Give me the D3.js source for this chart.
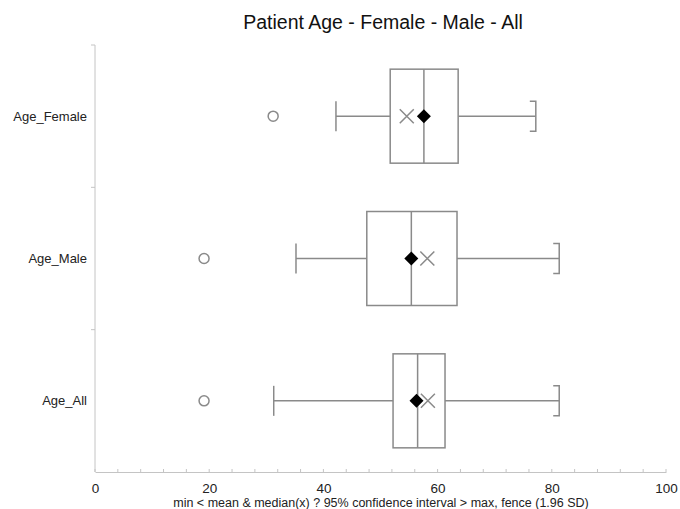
<!DOCTYPE html>
<html><head>
<meta charset="UTF-8">
<script src="https://d3js.org/d3.v7.min.js"></script>
<style>
body { margin:0; background:#fff; }
text { font-family: "Liberation Sans", Arial, sans-serif; }
</style>
</head>
<body>
<svg id="vis" width="680" height="509"></svg>
<script>
// values
var groups   = ["Age_Female", "Age_Male", "Age_All"];
var outliers = [31.2, 19.1, 19.1];
var whiskLo  = [42.2, 35.2, 31.3];
var q1       = [51.7, 47.6, 52.2];
var median   = [57.6, 55.4, 56.5];
var q3       = [63.6, 63.4, 61.3];
var whiskHi  = [77.2, 81.3, 81.3];
var diamond  = [57.6, 55.4, 56.3];
var cross    = [54.6, 58.2, 58.3];
var xTicks   = [0, 20, 40, 60, 80, 100];

var svg = d3.select("#vis");
var mLeft = 95, mRight = 666, mTop = 45, mBottom = 472;

var x = d3.scaleLinear().domain([0, 100]).range([mLeft, mRight]);
var y = d3.scaleBand().domain(groups).range([mTop, mBottom]).padding(0);

var grey = "#8a8a8a";
var axisGrey = "#c4c4c4";

// title
svg.append("text").attr("x", 383).attr("y", 29)
	.attr("text-anchor", "middle").attr("font-size", 19.5).attr("fill", "#111")
	.text("Patient Age - Female - Male - All");

// y axis line + separators
svg.append("line").attr("x1", mLeft).attr("x2", mLeft).attr("y1", mTop).attr("y2", mBottom)
	.attr("stroke", axisGrey);
svg.append("line").attr("x1", mLeft - 4).attr("x2", mLeft).attr("y1", mTop).attr("y2", mTop)
	.attr("stroke", axisGrey);
groups.slice(1).forEach(function(g){
	svg.append("line").attr("x1", mLeft - 4).attr("x2", mLeft).attr("y1", y(g)).attr("y2", y(g))
		.attr("stroke", axisGrey);
});
groups.forEach(function(g){
	svg.append("text").attr("x", 87).attr("y", y(g) + y.bandwidth()/2 + 4.5)
		.attr("text-anchor", "end").attr("font-size", 13).attr("fill", "#222").text(g);
});

// x axis
var xAxis = d3.axisBottom(x).tickValues(xTicks).tickSize(0).tickPadding(11).tickFormat(d3.format("d"));
var gx = svg.append("g").attr("transform", "translate(0," + mBottom + ")").call(xAxis);
gx.select(".domain").attr("stroke", axisGrey);
gx.selectAll("text").attr("font-size", 13.5).attr("fill", "#222")
	.style("font-family", "'Liberation Sans', Arial, sans-serif");
d3.range(0, 101, 4).forEach(function(v){
	svg.append("line").attr("x1", x(v)).attr("x2", x(v)).attr("y1", mBottom).attr("y2", mBottom - 3)
		.attr("stroke", axisGrey);
});
svg.append("text").attr("x", 381).attr("y", 507).attr("text-anchor", "middle")
	.attr("font-size", 12.5).attr("fill", "#222")
	.text("min < mean & median(x) ? 95% confidence interval > max, fence (1.96 SD)");

// boxes
var boxH = 94, capH = 30;
groups.forEach(function(g, i){
	var cy = y(g) + y.bandwidth()/2;
	var gb = svg.append("g").attr("stroke", grey).attr("stroke-width", 1.5).attr("fill", "none");
	gb.append("circle").attr("cx", x(outliers[i])).attr("cy", cy).attr("r", 5);
	gb.append("line").attr("x1", x(whiskLo[i])).attr("x2", x(q1[i])).attr("y1", cy).attr("y2", cy);
	gb.append("line").attr("x1", x(q3[i])).attr("x2", x(whiskHi[i])).attr("y1", cy).attr("y2", cy);
	gb.append("line").attr("x1", x(whiskLo[i])).attr("x2", x(whiskLo[i]))
		.attr("y1", cy - capH/2).attr("y2", cy + capH/2);
	gb.append("path").attr("d",
		"M" + (x(whiskHi[i]) - 6) + "," + (cy - capH/2) +
		"H" + x(whiskHi[i]) + "V" + (cy + capH/2) + "H" + (x(whiskHi[i]) - 6));
	gb.append("rect").attr("x", x(q1[i])).attr("y", cy - boxH/2)
		.attr("width", x(q3[i]) - x(q1[i])).attr("height", boxH);
	gb.append("line").attr("x1", x(median[i])).attr("x2", x(median[i]))
		.attr("y1", cy - boxH/2).attr("y2", cy + boxH/2);
	var cx = x(cross[i]);
	gb.append("path").attr("d",
		"M" + (cx - 7) + "," + (cy - 7) + "L" + (cx + 7) + "," + (cy + 7) +
		"M" + (cx - 7) + "," + (cy + 7) + "L" + (cx + 7) + "," + (cy - 7));
	var dx = x(diamond[i]);
	svg.append("path").attr("d",
		"M" + dx + "," + (cy - 7) + "L" + (dx + 7) + "," + cy + "L" + dx + "," + (cy + 7) +
		"L" + (dx - 7) + "," + cy + "Z").attr("fill", "#000");
});
</script>
</body></html>
